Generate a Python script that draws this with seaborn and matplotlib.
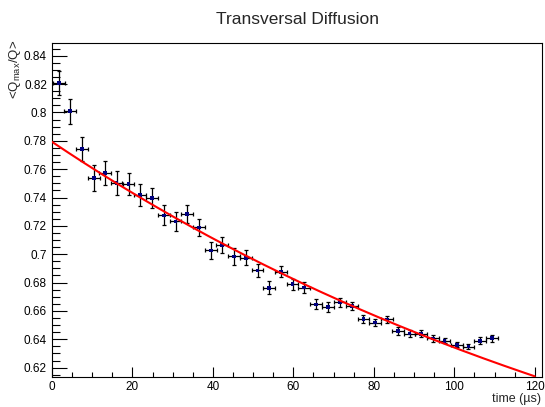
import numpy as np
import pandas as pd
import matplotlib
matplotlib.use("Agg")
import matplotlib.pyplot as plt
from matplotlib.ticker import MultipleLocator, FormatStrFormatter
import seaborn as sns

# ---- data ----
time_us = [1.66, 4.47, 7.38, 10.36, 13.24, 16.07, 19.05, 21.94, 24.9, 27.8,
           30.7, 33.6, 36.6, 39.5, 42.3, 45.3, 48.3, 51.1, 53.9, 56.9,
           59.8, 62.7, 65.6, 68.6, 71.6, 74.5, 77.4, 80.3, 83.2, 86.0,
           88.9, 91.8, 94.7, 97.6, 100.6, 103.5, 106.4, 109.4]
ratio = [0.8210, 0.8009, 0.7743, 0.7538, 0.7571, 0.7503, 0.7496, 0.7420, 0.7397, 0.7274,
         0.7232, 0.7284, 0.7189, 0.7027, 0.7067, 0.6984, 0.6975, 0.6886, 0.6763, 0.6876,
         0.6789, 0.6765, 0.6646, 0.6626, 0.6660, 0.6634, 0.6542, 0.6518, 0.6540, 0.6459,
         0.6440, 0.6438, 0.6406, 0.6390, 0.6360, 0.6348, 0.6390, 0.6408]
ratio_err = [0.0086, 0.0087, 0.0086, 0.0090, 0.0085, 0.0085, 0.0078, 0.0078, 0.0072, 0.0070,
             0.0067, 0.0066, 0.0059, 0.0060, 0.0057, 0.0057, 0.0052, 0.0044, 0.0047, 0.0038,
             0.0039, 0.0039, 0.0035, 0.0035, 0.0030, 0.0027, 0.0030, 0.0027, 0.0027, 0.0027,
             0.0024, 0.0024, 0.0024, 0.0018, 0.0018, 0.0019, 0.0024, 0.0024]
time_half_bin = 1.45

# fit: y = C + A * exp(-t / tau)
fit_A = 0.332
fit_tau = 174.0
fit_C = 0.4473
fit_range = (0.0, 120.0)

title = "Transversal Diffusion"
xlabel = "time (\u00b5s)"
ylabel = r"<Q$_{\mathrm{max}}$/Q>"

# ---- styling ----
sns.set_style("white")
plt.rcParams["font.family"] = ["Liberation Sans", "DejaVu Sans"]
plt.rcParams["mathtext.fontset"] = "custom"
plt.rcParams["mathtext.rm"] = "Liberation Sans"
plt.rcParams["mathtext.it"] = "Liberation Sans:italic"

W, H = 545, 407
fig = plt.figure(figsize=(W / 100, H / 100), dpi=100)
ax = fig.add_axes([52 / W, 1 - 376.7 / H, 490 / W, 333.4 / H])

df = pd.DataFrame({"t": time_us, "r": ratio, "e": ratio_err})

ax.errorbar(df["t"], df["r"], yerr=df["e"], xerr=time_half_bin, fmt="none",
            ecolor="black", elinewidth=0.9, capsize=1.6, capthick=0.9, zorder=2)
sns.scatterplot(data=df, x="t", y="r", marker="s", color="#000080", s=7,
                edgecolor="none", ax=ax, zorder=3)

tt = np.linspace(fit_range[0], fit_range[1], 300)
fit_df = pd.DataFrame({"t": tt, "y": fit_C + fit_A * np.exp(-tt / fit_tau)})
sns.lineplot(data=fit_df, x="t", y="y", color="#ff0000", linewidth=1.5, ax=ax, zorder=4)

ax.set_xlim(0, 121.8)
ax.set_ylim(0.6136, 0.8488)

ax.xaxis.set_major_locator(MultipleLocator(20))
ax.xaxis.set_minor_locator(MultipleLocator(5))
ax.yaxis.set_major_locator(MultipleLocator(0.02))
ax.yaxis.set_minor_locator(MultipleLocator(0.005))
ax.xaxis.set_major_formatter(FormatStrFormatter("%g"))
ax.yaxis.set_major_formatter(FormatStrFormatter("%g"))

ax.tick_params(axis="both", which="both", direction="in", color="black",
               width=0.8, labelsize=8.5, labelcolor="black",
               top=False, right=False, left=True, bottom=True)
ax.tick_params(axis="y", which="major", length=10.8, pad=3.6)
ax.tick_params(axis="y", which="minor", length=5.4)
ax.tick_params(axis="x", which="major", length=7.2, pad=3.0)
ax.tick_params(axis="x", which="minor", length=3.6)

for s in ax.spines.values():
    s.set_visible(True)
    s.set_color("black")
    s.set_linewidth(0.8)

ax.set_xlabel("")
ax.set_ylabel("")
fig.text(541 / W, 1 - 399 / H, xlabel, ha="right", va="center", fontsize=9)
fig.text(15 / W, 1 - 40 / H, ylabel, ha="center", va="top", rotation=90, fontsize=9.5)
fig.text(297 / W, 1 - 24 / H, title, ha="center", va="baseline", fontsize=12.5)

fig.savefig("out.png", dpi=100)
